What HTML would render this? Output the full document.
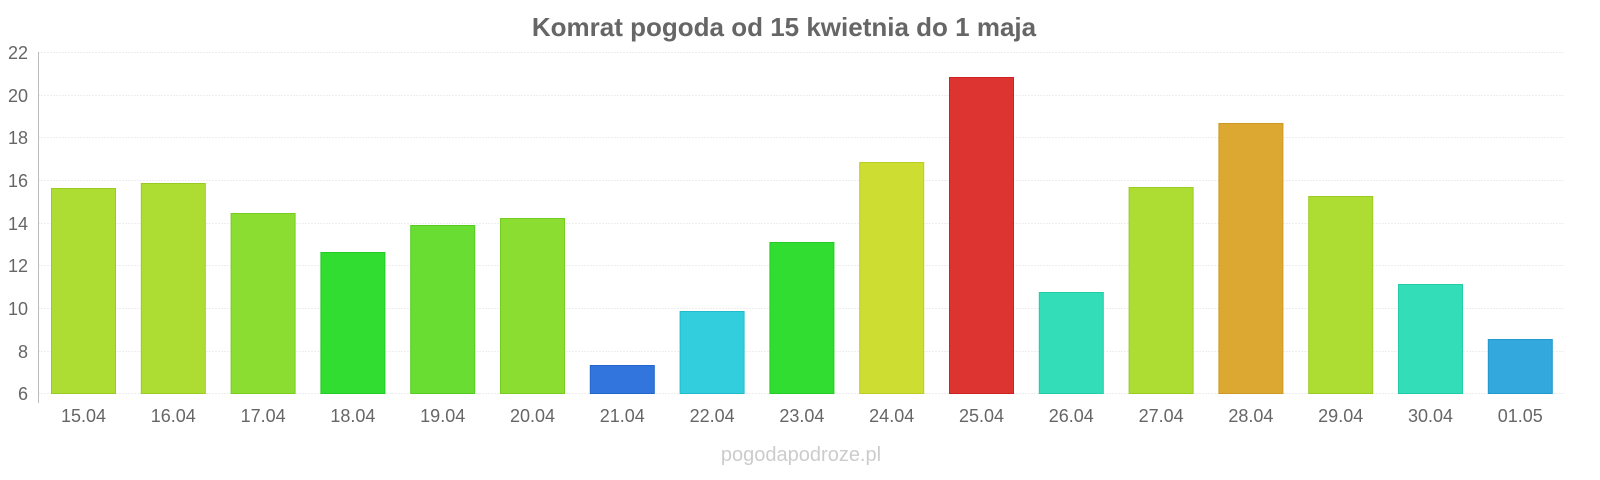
<!DOCTYPE html>
<html><head><style>
body{margin:0;background:#fff;}
svg{display:block;font-family:"Liberation Sans",sans-serif;}
</style></head><body>
<svg width="1600" height="480" viewBox="0 0 1600 480">
<text x="784" y="36" text-anchor="middle" font-size="26" font-weight="bold" fill="#666">Komrat pogoda od 15 kwietnia do 1 maja</text>
<g stroke="#eee" stroke-width="1" stroke-dasharray="2,1">
<line x1="38" x2="1565" y1="52.5" y2="52.5"/>
<line x1="38" x2="1565" y1="95.5" y2="95.5"/>
<line x1="38" x2="1565" y1="137.5" y2="137.5"/>
<line x1="38" x2="1565" y1="180.5" y2="180.5"/>
<line x1="38" x2="1565" y1="223.5" y2="223.5"/>
<line x1="38" x2="1565" y1="265.5" y2="265.5"/>
<line x1="38" x2="1565" y1="308.5" y2="308.5"/>
<line x1="38" x2="1565" y1="351.5" y2="351.5"/>
<line x1="38" x2="1565" y1="393.5" y2="393.5"/>
</g>
<line x1="38.5" x2="38.5" y1="52" y2="403" stroke="#bbb"/>
<g font-size="18" fill="#666" text-anchor="end">
<text x="28" y="59">22</text><text x="28" y="102">20</text><text x="28" y="144">18</text>
<text x="28" y="187">16</text><text x="28" y="230">14</text><text x="28" y="272">12</text>
<text x="28" y="315">10</text><text x="28" y="358">8</text><text x="28" y="400">6</text>
</g>
<g stroke-width="1">
<rect x="51.5" y="188.5" width="64" height="205" fill="#addd32" stroke="#9c2"/>
<rect x="141.3" y="183.5" width="64" height="210" fill="#addd32" stroke="#9c2"/>
<rect x="231.1" y="213.5" width="64" height="180" fill="#8cdd32" stroke="#7c2"/>
<rect x="320.9" y="252.5" width="64" height="141" fill="#32dd32" stroke="#2c2"/>
<rect x="410.7" y="225.5" width="64" height="168" fill="#69dd32" stroke="#5c2"/>
<rect x="500.5" y="218.5" width="64" height="175" fill="#8cdd32" stroke="#7c2"/>
<rect x="590.3" y="365.5" width="64" height="28" fill="#3275dd" stroke="#26c"/>
<rect x="680.1" y="311.5" width="64" height="82" fill="#32cedd" stroke="#2bc"/>
<rect x="769.9" y="242.5" width="64" height="151" fill="#32dd32" stroke="#2c2"/>
<rect x="859.7" y="162.5" width="64" height="231" fill="#cedd32" stroke="#bc2"/>
<rect x="949.5" y="77.5" width="64" height="316" fill="#dd3432" stroke="#c22"/>
<rect x="1039.3" y="292.5" width="64" height="101" fill="#32ddb8" stroke="#2ca"/>
<rect x="1129.1" y="187.5" width="64" height="206" fill="#addd32" stroke="#9c2"/>
<rect x="1218.9" y="123.5" width="64" height="270" fill="#dda832" stroke="#c92"/>
<rect x="1308.7" y="196.5" width="64" height="197" fill="#addd32" stroke="#9c2"/>
<rect x="1398.5" y="284.5" width="64" height="109" fill="#32ddb8" stroke="#2ca"/>
<rect x="1488.3" y="339.5" width="64" height="54" fill="#32a8dd" stroke="#29c"/>
</g>
<g font-size="18" fill="#666" text-anchor="middle">
<text x="83.5" y="422">15.04</text><text x="173.3" y="422">16.04</text><text x="263.1" y="422">17.04</text>
<text x="352.9" y="422">18.04</text><text x="442.7" y="422">19.04</text><text x="532.5" y="422">20.04</text>
<text x="622.3" y="422">21.04</text><text x="712.1" y="422">22.04</text><text x="801.9" y="422">23.04</text>
<text x="891.7" y="422">24.04</text><text x="981.5" y="422">25.04</text><text x="1071.3" y="422">26.04</text>
<text x="1161.1" y="422">27.04</text><text x="1250.9" y="422">28.04</text><text x="1340.7" y="422">29.04</text>
<text x="1430.5" y="422">30.04</text><text x="1520.3" y="422">01.05</text>
</g>
<text x="801" y="461" text-anchor="middle" font-size="20" fill="#ccc">pogodapodroze.pl</text>
</svg>
</body></html>
